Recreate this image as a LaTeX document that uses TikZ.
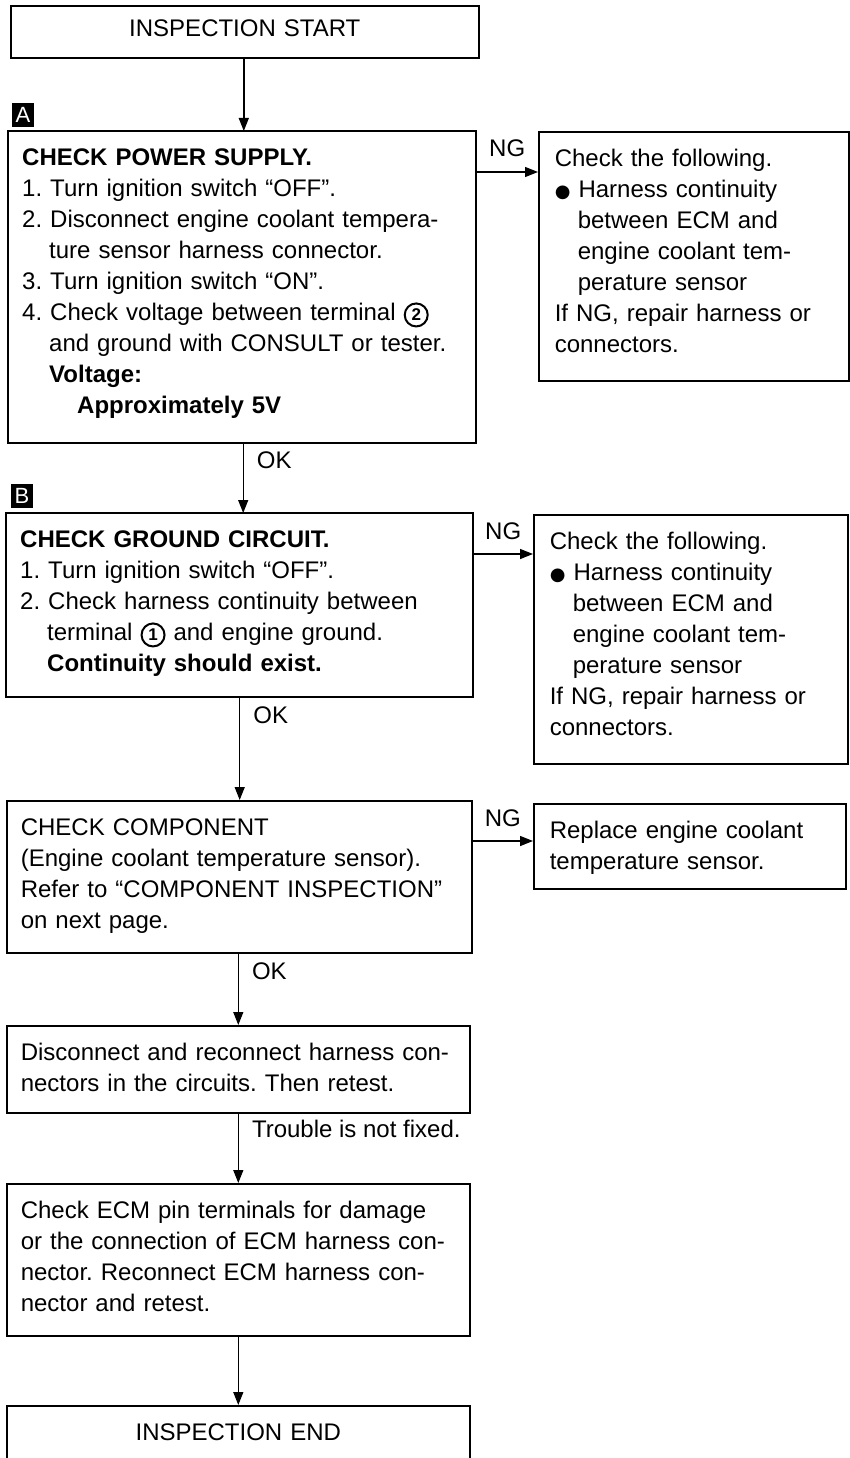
\documentclass[tikz,border=0pt]{standalone}
\usepackage{fontspec}
\setmainfont{Liberation Sans}
\newfontfamily\symfont{DejaVu Sans}
\usetikzlibrary{arrows.meta}
\frenchspacing

% circled terminal number, bullet and hanging indent
\newcommand{\termno}[1]{\tikz[baseline=(tn.base)]\node[circle, draw, line width=2pt,
  inner sep=0pt, minimum size=23pt, text width=13pt, text height=11.5pt, text depth=0pt,
  align=center, font=\fontsize{17}{17}\selectfont\bfseries] (tn) {#1};}
\newcommand{\blt}{{\symfont\fontsize{18}{18}\selectfont ●}}
\newcommand{\ind}[1]{\hspace*{#1pt}}

\begin{document}
\begin{tikzpicture}[
    x=1pt, y=-1pt,
    line width=1.6pt,
    chkbox/.style={draw, anchor=north west, align=left, inner xsep=14pt, inner ysep=0pt,
      text height=34.5pt, font=\fontsize{24}{31}\selectfont},
    ngbox/.style={chkbox, inner xsep=16pt},
    lbl/.style={font=\fontsize{24}{24}\selectfont, inner sep=2pt},
    tag/.style={fill=black, text=white, inner sep=0pt, minimum width=22pt, minimum height=24pt,
      font=\fontsize{22}{22}\selectfont},
    arr/.style={line width=1.4pt, -{Triangle[length=13pt, width=10pt]}},
  ]
  \useasboundingbox (0,0) rectangle (849,1458);

  % main column
  \node[chkbox, text width=440pt, align=center, text height=31pt, text depth=21pt] (start) at (10,5) {INSPECTION START};

  \node[chkbox, text width=440pt, text depth=277.5pt] (boxA) at (8,131) {%
    \textbf{CHECK POWER SUPPLY.}\\
    1. Turn ignition switch “OFF”.\\
    2. Disconnect engine coolant tempera-\\
    \ind{27}ture sensor harness connector.\\
    3. Turn ignition switch “ON”.\\
    4. Check voltage between terminal \termno{2}\\
    \ind{27}and ground with CONSULT or tester.\\
    \ind{27}\textbf{Voltage:}\\
    \ind{55}\textbf{Approximately 5V}};

  \node[chkbox, text width=439pt, text depth=149.5pt] (boxB) at (6,513) {%
    \textbf{CHECK GROUND CIRCUIT.}\\
    1. Turn ignition switch “OFF”.\\
    2. Check harness continuity between\\
    \ind{27}terminal \termno{1} and engine ground.\\
    \ind{27}\textbf{Continuity should exist.}};

  \node[chkbox, text width=437pt, text depth=117.5pt] (boxC) at (6,800) {%
    CHECK COMPONENT\\
    (Engine coolant temperature sensor).\\
    Refer to “COMPONENT INSPECTION”\\
    on next page.};

  \node[chkbox, text width=435pt, text depth=52.5pt] (boxD) at (6,1025) {%
    Disconnect and reconnect harness con-\\
    nectors in the circuits. Then retest.};

  \node[chkbox, text width=435pt, text depth=117.5pt] (boxE) at (6,1183) {%
    Check ECM pin terminals for damage\\
    or the connection of ECM harness con-\\
    nector. Reconnect ECM harness con-\\
    nector and retest.};

  \node[chkbox, text width=435pt, align=center, text depth=22.5pt] (finish) at (6,1405) {INSPECTION END};

  % NG column
  \node[ngbox, text width=278pt, text depth=214.5pt] (ngA) at (538,131) {%
    Check the following.\\
    \blt\ Harness continuity\\
    \ind{23}between ECM and\\
    \ind{23}engine coolant tem-\\
    \ind{23}perature sensor\\
    If NG, repair harness or\\
    connectors.};

  \node[ngbox, text width=282pt, text depth=214.5pt] (ngB) at (533,514) {%
    Check the following.\\
    \blt\ Harness continuity\\
    \ind{23}between ECM and\\
    \ind{23}engine coolant tem-\\
    \ind{23}perature sensor\\
    If NG, repair harness or\\
    connectors.};

  \node[ngbox, text width=280pt, text depth=50.5pt] (ngC) at (533,803) {%
    Replace engine coolant\\
    temperature sensor.};

  % section tags
  \node[tag] (tagA) at (23,115) {A};
  \node[tag] (tagB) at (22,496) {B};

  % OK flow
  \draw[arr] ([xshift=-1pt]start.south) -- ([xshift=-1pt]start.south |- boxA.north);
  \draw[arr] ([xshift=1pt]boxA.south) -- ([xshift=1pt]boxA.south |- boxB.north)
    node[lbl, pos=0.24, anchor=west, xshift=11pt] (okA) {OK};
  \draw[arr] (boxB.south) -- (boxB.south |- boxC.north)
    node[lbl, pos=0.175, anchor=west, xshift=11pt] (okB) {OK};
  \draw[arr] ([xshift=-1pt]boxC.south) -- ([xshift=-1pt]boxC.south |- boxD.north)
    node[lbl, pos=0.25, anchor=west, xshift=11pt] (okC) {OK};
  \draw[arr] (boxD.south) -- (boxE.north)
    node[lbl, pos=0.225, anchor=west, xshift=11pt] (notfixed) {Trouble is not fixed.};
  \draw[arr] (boxE.south) -- (finish.north);

  % NG flow
  \coordinate (outA) at ([yshift=-41pt]boxA.north east);
  \coordinate (outB) at ([yshift=-41pt]boxB.north east);
  \coordinate (outC) at ([yshift=-41pt]boxC.north east);
  \draw[arr] (outA) -- (outA -| ngA.west) node[lbl, midway, anchor=base, yshift=15pt] (ngLblA) {NG};
  \draw[arr] (outB) -- (outB -| ngB.west) node[lbl, midway, anchor=base, yshift=15pt] (ngLblB) {NG};
  \draw[arr] (outC) -- (outC -| ngC.west) node[lbl, midway, anchor=base, yshift=15pt] (ngLblC) {NG};
\end{tikzpicture}
\end{document}
